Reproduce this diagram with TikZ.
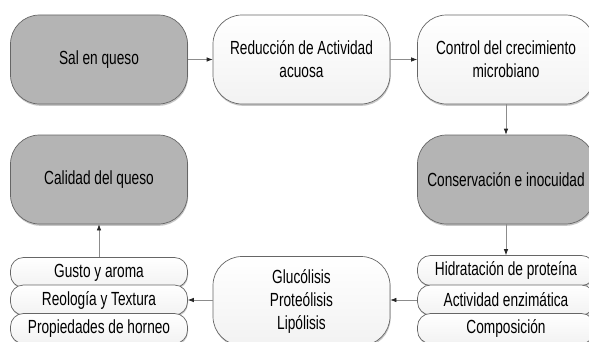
\documentclass[tikz,border=0pt]{standalone}
\usepackage{fontspec}
\setmainfont{Liberation Sans}[FakeStretch=0.72]
\usetikzlibrary{arrows.meta,shadows}
\definecolor{darkfill}{HTML}{B4B4B4}
\definecolor{edgecol}{HTML}{666666}
\newcommand{\boxfont}{\fontsize{19}{23}\selectfont}
\tikzset{
  bigbox/.style={draw=edgecol, line width=0.7pt, rounded corners=29pt,
    minimum width=177pt, minimum height=89pt, align=center, inner sep=0pt,
    font=\boxfont, drop shadow={shadow xshift=0.6pt, shadow yshift=-1.8pt, opacity=0.45}},
  darkbox/.style={bigbox, fill=darkfill},
  lightbox/.style={bigbox, top color=white, bottom color=black!5},
  stackbox/.style={draw=edgecol, line width=0.7pt, rounded corners=13pt,
    minimum width=177pt, minimum height=30pt, inner sep=0pt, font=\boxfont,
    top color=white, bottom color=black!5,
    drop shadow={shadow xshift=0.5pt, shadow yshift=-1.5pt, opacity=0.4}},
  link/.style={draw=black!45, line width=0.7pt,
    -{Latex[length=6pt,width=4.5pt,color=black!85]}}
}

\begin{document}
\begin{tikzpicture}[x=1pt,y=1pt]
  \useasboundingbox (0,0) rectangle (589,341);

  \node[darkbox]  (sal)       at (99,281.5)  {Sal en queso};
  \node[lightbox] (reduccion) at (301.5,281.5) {Reducción de Actividad\\acuosa};
  \node[lightbox] (control)   at (506,281.5) {Control del crecimiento\\microbiano};
  \node[darkbox]  (calidad)   at (99,161.5)  {Calidad del queso};
  \node[darkbox]  (conserva)  at (506,161.5) {Conservación e inocuidad};
  \node[lightbox] (lisis)     at (301.5,40)  {Glucólisis\\Proteólisis\\Lipólisis};

  \node[stackbox] (gusto)     at (99,68.5)  {Gusto y aroma};
  \node[stackbox] (reologia)  at (99,41)    {Reología y Textura};
  \node[stackbox] (horneo)    at (99,12.5)  {Propiedades de horneo};

  \node[stackbox] (hidrata)   at (506,70.5) {Hidratación de proteína};
  \node[stackbox] (enzima)    at (506,41)   {Actividad enzimática};
  \node[stackbox] (compo)     at (506,12.5) {Composición};

  \draw[link] (sal) -- (reduccion);
  \draw[link] (reduccion) -- (control);
  \draw[link] (control) -- (conserva);
  \draw[link] (conserva) -- (hidrata);
  \draw[link] (enzima.west) -- (lisis.east |- enzima.west);
  \draw[link] (lisis.west |- reologia.east) -- (reologia.east);
  \draw[link] (gusto) -- (calidad);
\end{tikzpicture}
\end{document}
